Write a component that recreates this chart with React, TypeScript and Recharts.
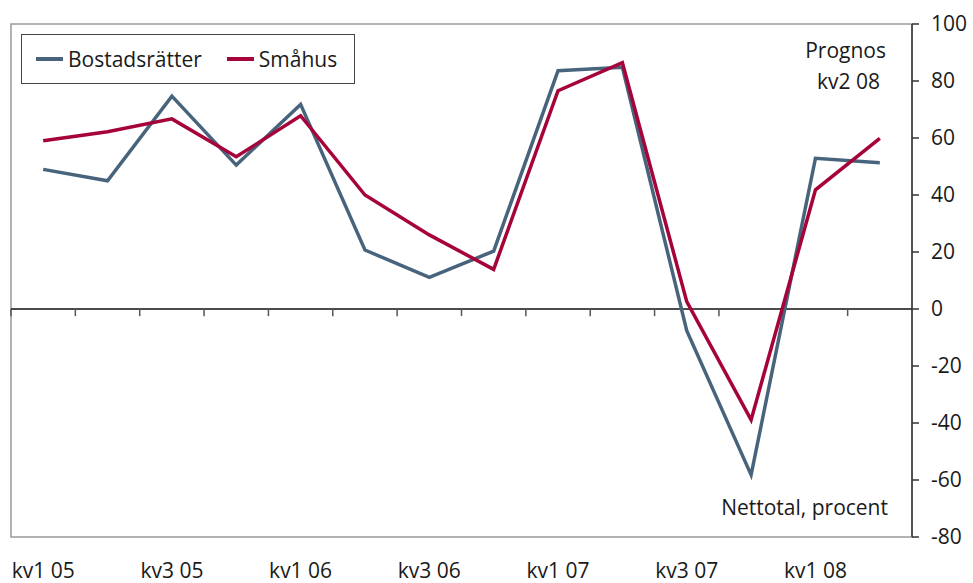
import { LineChart, Line, XAxis, YAxis, ReferenceLine, ReferenceArea, Legend, Customized } from 'recharts';

// quarters kv1 05 .. kv2 08 (last one is a forecast)
const quarters = ['kv1 05', 'kv2 05', 'kv3 05', 'kv4 05', 'kv1 06', 'kv2 06', 'kv3 06', 'kv4 06', 'kv1 07', 'kv2 07', 'kv3 07', 'kv4 07', 'kv1 08', 'kv2 08'];
const bostadsratter = [49, 45, 74.7, 50.5, 71.8, 20.7, 11.1, 20.3, 83.6, 84.8, -7.6, -58.2, 52.9, 51.3];
const smahus = [59, 62.2, 66.7, 53.4, 67.8, 40, 26, 13.9, 76.6, 86.4, 2.6, -38.9, 41.8, 59.9];
const yTicks = [-80, -60, -40, -20, 0, 20, 40, 60, 80, 100];

const BLUE = '#48647d';
const RED = '#a5033a';
const FONT = '"Open Sans", "Noto Sans", sans-serif';
const FS = 21;

// x is placed at the middle of each quarter, boundaries at whole numbers
const data = quarters.map((q, i) => ({ q, pos: i + 0.5, b: bostadsratter[i], s: smahus[i] }));
const labelTicks = quarters.map((_, i) => i + 0.5).filter((_, i) => i % 2 === 0);
const boundaries = quarters.map((_, i) => i);

const renderLegend = () => (
  <div style={{ border: '1px solid #444', width: 334, height: 50, boxSizing: 'border-box', display: 'flex', alignItems: 'center', paddingLeft: 14, fontFamily: FONT, fontSize: FS, color: '#1a1a1a', background: '#fff' }}>
    <span style={{ display: 'inline-block', width: 27, height: 3.5, background: BLUE, marginRight: 5 }} />
    <span>Bostadsrätter</span>
    <span style={{ display: 'inline-block', width: 27, height: 3.5, background: RED, marginLeft: 25, marginRight: 5 }} />
    <span>Småhus</span>
  </div>
);

const Notes = () => (
  <g fontFamily={FONT} fontSize={FS} fill="#1a1a1a" textAnchor="end">
    <text x={886} y={58}>Prognos</text>
    <text x={880} y={89}>kv2 08</text>
    <text x={888} y={515}>Nettotal, procent</text>
  </g>
);

export default function App() {
  return (
    <div style={{ position: 'absolute', left: 0, top: 0, background: '#fff' }}>
      <LineChart width={973} height={583} data={data} margin={{ top: 24, right: 0, bottom: 0, left: 11 }} style={{ fontFamily: FONT }}>
        <ReferenceArea x1={0} x2={quarters.length} y1={-80} y2={100} fill="none" stroke="#9a9a9a" strokeWidth={1.5} />
        <XAxis
          dataKey="pos"
          type="number"
          domain={[0, quarters.length]}
          ticks={labelTicks}
          interval={0}
          tickFormatter={(v: number) => quarters[Math.floor(v)]}
          axisLine={false}
          tickLine={false}
          tickMargin={20}
          height={46}
          tick={{ fontSize: FS, fill: '#1a1a1a' }}
        />
        <YAxis
          orientation="right"
          domain={[-80, 100]}
          ticks={yTicks}
          interval={0}
          width={61}
          tickSize={7}
          tickMargin={12}
          axisLine={{ stroke: '#333', strokeWidth: 1.5 }}
          tickLine={{ stroke: '#333', strokeWidth: 1.5 }}
          tick={{ fontSize: FS, fill: '#1a1a1a' }}
        />
        <ReferenceLine y={0} stroke="#111" strokeWidth={1.5} />
        {boundaries.map((x) => (
          <ReferenceLine key={x} segment={[{ x, y: 0 }, { x, y: -2.5 }]} stroke="#555" strokeWidth={1.5} />
        ))}
        <Line type="linear" dataKey="b" name="Bostadsrätter" stroke={BLUE} strokeWidth={3.5} dot={false} isAnimationActive={false} />
        <Line type="linear" dataKey="s" name="Småhus" stroke={RED} strokeWidth={3.5} dot={false} isAnimationActive={false} />
        <Legend layout="horizontal" verticalAlign="middle" align="center" content={renderLegend} wrapperStyle={{ left: 21, top: 34, width: 334, height: 50 }} />
        <Customized component={Notes} />
      </LineChart>
    </div>
  );
}
